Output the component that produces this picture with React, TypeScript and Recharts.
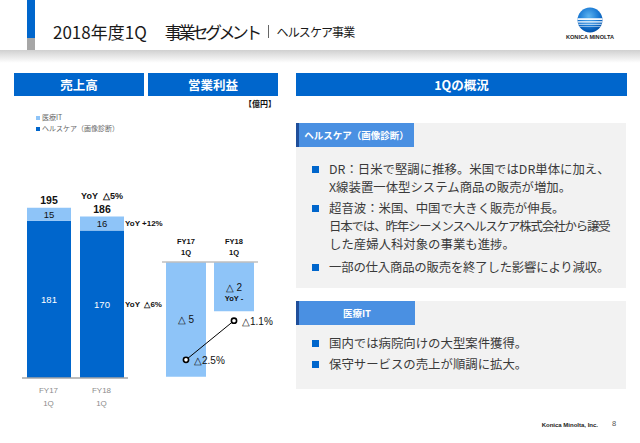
import React from 'react';
import { BarChart, Bar, XAxis, YAxis, LabelList, ComposedChart, Line } from 'recharts';

// ---- data ----
const categories = ['FY17', 'FY18'];
const periodLabels = ['1Q', '1Q'];
const healthcareSales = [181, 170];
const medicalItSales = [15, 16];
const salesTotals = [195, 186];
const healthcareYoY = ['', 'YoY\u00a0\u00a0△6%'];
const medicalItYoY = ['', 'YoY +12%'];
const totalYoY = ['', 'YoY\u00a0\u00a0△5%'];
const opIncome = [-4.9, -2.1];
const opIncomeLabels = ['△ 5', '△ 2'];
const opIncomeYoY = ['', 'YoY -'];
const opMargin = [-2.5, -1.1];
const opMarginLabels = ['△2.5%', '△1.1%'];

const legendNames = ['医療IT', 'ヘルスケア（画像診断）'];

const salesData = categories.map((c, i) => ({
  category: c,
  period: periodLabels[i],
  healthcare: healthcareSales[i],
  medicalIt: medicalItSales[i],
  total: salesTotals[i],
  healthcareYoY: healthcareYoY[i],
  medicalItYoY: medicalItYoY[i],
  totalYoY: totalYoY[i],
}));

const opData = categories.map((c, i) => ({
  category: c,
  period: periodLabels[i],
  income: opIncome[i],
  incomeLabel: opIncomeLabels[i],
  incomeYoY: opIncomeYoY[i],
  margin: opMargin[i],
  marginLabel: opMarginLabels[i],
}));

const bullets1 = [
  ['DR：日米で堅調に推移。米国ではDR単体に加え、', 'X線装置一体型システム商品の販売が増加。'],
  ['超音波：米国、中国で大きく販売が伸長。', '日本では、昨年シーメンスヘルスケア株式会社から譲受', 'した産婦人科対象の事業も進捗。'],
  ['一部の仕入商品の販売を終了した影響により減収。'],
];
const bullets1Y = [[169.5, 187.5], [208, 226.5, 244.5], [267]];
const bullets1Spacing = [[0, 0], [0, -1.1, 0], [-0.2]];
const bullets2 = [['国内では病院向けの大型案件獲得。'], ['保守サービスの売上が順調に拡大。']];
const bullets2Y = [[343], [364]];
const bullets2Spacing = [[0], [0]];

// ---- styles ----
const JP = '"Noto Sans CJK JP", "Noto Sans", sans-serif';
const NUM = '"Liberation Sans", Arial, sans-serif';
const DARK = '#0066CC';
const LIGHT = '#8EC4F8';
const HEAD = '#0066CC';
const SUBHEAD = '#4A90E2';

const box = (l: number, t: number, w: number, h: number, bg: string): React.CSSProperties => ({
  position: 'absolute', left: l, top: t, width: w, height: h, background: bg,
});

const rectOf = (p: any) => {
  const vb = p.viewBox ?? p;
  const x = vb.x ?? p.x;
  const y = vb.y ?? p.y;
  const w = vb.width ?? p.width ?? 0;
  const h = vb.height ?? p.height ?? 0;
  const top = Math.min(y, y + h);
  const bottom = Math.max(y, y + h);
  return { x, y, w, h, cx: x + w / 2, cy: (top + bottom) / 2, top, bottom, right: x + w };
};

const segLabel = (color: string) => (p: any) => {
  const r = rectOf(p);
  return (
    <text x={r.cx} y={r.cy} textAnchor="middle" dominantBaseline="central" fill={color}
      fontFamily={NUM} fontSize={9.5}>{p.value}</text>
  );
};

const rightLabel = (p: any) => {
  if (!p.value) return null;
  const r = rectOf(p);
  return (
    <text x={r.right + 1} y={r.cy} textAnchor="start" dominantBaseline="central" fill="#111"
      fontFamily={NUM} fontSize={8} fontWeight="bold">{p.value}</text>
  );
};

const totalLabel = (p: any) => {
  const r = rectOf(p);
  const i = p.index;
  const yoy = salesData[i]?.totalYoY;
  return (
    <g>
      <text x={r.cx} y={r.top - 8} textAnchor="middle" dominantBaseline="central" fill="#111"
        fontFamily={NUM} fontSize={10.5} fontWeight="bold">{p.value}</text>
      {yoy ? (
        <text x={r.cx} y={r.top - 21} textAnchor="middle" dominantBaseline="central" fill="#111"
          fontFamily={NUM} fontSize={9} fontWeight="bold">{yoy}</text>
      ) : null}
    </g>
  );
};

const opBarLabel = (p: any) => {
  const r = rectOf(p);
  const yoy = opData[p.index]?.incomeYoY;
  return (
    <g>
      <text x={r.cx} y={yoy ? r.cy + 1 : r.cy} textAnchor="middle" dominantBaseline="central" fill="#111"
        fontFamily={NUM} fontSize={10}>{p.value}</text>
      {yoy ? (
        <text x={r.cx} y={r.cy + 12} textAnchor="middle" dominantBaseline="central" fill="#111"
          fontFamily={NUM} fontSize={7.5} fontWeight="bold">{yoy}</text>
      ) : null}
    </g>
  );
};

const marginLabel = (p: any) => {
  const vb = p.viewBox ?? p;
  const x = vb.x ?? p.x;
  const y = vb.y ?? p.y;
  return (
    <text x={x + 8} y={y + 1} textAnchor="start" dominantBaseline="central" fill="#111"
      fontFamily={NUM} fontSize={10}>{p.value}</text>
  );
};

const SalesTick = (p: any) => {
  const { x, y, payload, index } = p;
  return (
    <g>
      <text x={x} y={y + 12} textAnchor="middle" dominantBaseline="central" fill="#8c8c8c" fontFamily={NUM} fontSize={8}>{payload.value}</text>
      <text x={x} y={y + 25} textAnchor="middle" dominantBaseline="central" fill="#8c8c8c" fontFamily={NUM} fontSize={8}>{periodLabels[index] ?? '1Q'}</text>
    </g>
  );
};

const OpTick = (p: any) => {
  const { x, y, payload, index } = p;
  return (
    <g>
      <text x={x} y={y - 21} textAnchor="middle" dominantBaseline="central" fill="#111" fontFamily={NUM} fontSize={7.5} fontWeight="bold">{payload.value}</text>
      <text x={x} y={y - 10} textAnchor="middle" dominantBaseline="central" fill="#111" fontFamily={NUM} fontSize={7.5} fontWeight="bold">{periodLabels[index] ?? '1Q'}</text>
    </g>
  );
};

const MarginDot = (p: any) => {
  const { cx, cy } = p;
  if (cx == null || cy == null) return null;
  return <circle cx={cx} cy={cy} r={2.6} fill="#fff" stroke="#000" strokeWidth={1.6} />;
};

function Logo() {
  return (
    <svg style={{ position: 'absolute', left: 556, top: 4 }} width={70} height={40}>
      <defs>
        <radialGradient id="lg" cx="45%" cy="35%" r="65%">
          <stop offset="0%" stopColor="#5db4f0" />
          <stop offset="60%" stopColor="#1a7ad4" />
          <stop offset="100%" stopColor="#0050a8" />
        </radialGradient>
        <clipPath id="lc"><circle cx={34} cy={16} r={12.5} /></clipPath>
      </defs>
      <circle cx={34} cy={16} r={12.5} fill="url(#lg)" />
      <g clipPath="url(#lc)" fill="#ffffff">
        <rect x={20} y={14.2} width={30} height={1.8} opacity={0.95} />
        <rect x={20} y={17.2} width={30} height={1.4} opacity={0.9} />
        <rect x={20} y={19.8} width={30} height={1.0} opacity={0.8} />
        <rect x={20} y={22.0} width={30} height={0.7} opacity={0.7} />
      </g>
      <text x={34} y={35} textAnchor="middle" fontFamily={NUM} fontSize={5.6} fontWeight="bold" fill="#222">KONICA MINOLTA</text>
    </svg>
  );
}

function BulletBlock({ items, ys, sp }: { items: string[][]; ys: number[][]; sp: number[][] }) {
  return (
    <>
      {items.map((lines, i) => (
        <React.Fragment key={i}>
          <div style={box(312, ys[i][0] - 3.5, 7, 7, DARK)} />
          {lines.map((line, j) => (
            <div key={j} style={{
              position: 'absolute', left: 329, top: ys[i][j] - 7.5, height: 15, lineHeight: '15px',
              fontSize: 12.4, color: '#3a3a3a', whiteSpace: 'nowrap', fontFamily: JP, letterSpacing: sp[i][j],
            }}>{line}</div>
          ))}
        </React.Fragment>
      ))}
    </>
  );
}

export default function App() {
  const headText: React.CSSProperties = {
    color: '#fff', fontWeight: 'bold', fontSize: 12.5, lineHeight: '23px', textAlign: 'center', fontFamily: JP,
  };
  const subText: React.CSSProperties = {
    color: '#fff', fontWeight: 'bold', fontSize: 9.5, lineHeight: '24px', textAlign: 'center', fontFamily: JP,
  };
  return (
    <div style={{ position: 'absolute', left: 0, top: 0, width: 640, height: 443, background: '#fff', overflow: 'hidden', fontFamily: JP }}>
      {/* title bar */}
      <div style={box(27, 0, 8, 38, '#0066CC')} />
      <div style={box(27, 38, 8, 12, '#A6A6A6')} />
      <div style={{ ...box(0, 50, 640, 13, ''), background: 'linear-gradient(#d0d0d0, #ffffff)' }} />
      <div style={{ position: 'absolute', left: 53, top: 21, height: 20, display: 'flex', alignItems: 'center', color: '#1a1a1a', whiteSpace: 'nowrap' }}>
        <span style={{ fontSize: 17 }}>2018年度1Q</span>
        <span style={{ fontSize: 17, marginLeft: 18, letterSpacing: -3.6 }}>事業セグメント</span>
        <span style={{ display: 'inline-block', width: 1, height: 13, background: '#666', marginLeft: 9, marginRight: 8 }} />
        <span style={{ fontSize: 12, letterSpacing: -0.9 }}>ヘルスケア事業</span>
      </div>
      <Logo />

      {/* section headers */}
      <div style={{ ...box(14, 73, 130, 23, HEAD), ...headText }}>売上高</div>
      <div style={{ ...box(148, 73, 130, 23, HEAD), ...headText }}>営業利益</div>
      <div style={{ ...box(296, 73, 331, 23, HEAD), ...headText }}>1Qの概況</div>
      <div style={{ position: 'absolute', left: 230, top: 98, width: 46, textAlign: 'right', fontSize: 8, fontWeight: 'bold', color: '#111', lineHeight: '12px' }}>【億円】</div>

      {/* legend */}
      {legendNames.map((n, i) => (
        <div key={n} style={{ position: 'absolute', left: 36, top: 112 + i * 11, height: 10, lineHeight: '10px', fontSize: 7, color: '#666', whiteSpace: 'nowrap' }}>
          <span style={{ display: 'inline-block', width: 4, height: 4, background: i === 0 ? LIGHT : DARK, marginRight: 2, verticalAlign: 'middle' }} />
          {n}
        </div>
      ))}

      {/* sales chart */}
      <div style={{ position: 'absolute', left: 0, top: 0 }}>
        <BarChart width={290} height={443} data={salesData} margin={{ top: 187, right: 162, bottom: 35, left: 22 }} barSize={44}>
          <XAxis dataKey="category" height={30} tickLine={false} tickSize={0} tickMargin={0}
            axisLine={{ stroke: '#A6A6A6', strokeWidth: 1.5 }} tick={<SalesTick />} interval={0} />
          <YAxis hide domain={[0, 220]} />
          <Bar dataKey="healthcare" stackId="s" fill={DARK} isAnimationActive={false}>
            <LabelList dataKey="healthcare" content={segLabel('#ffffff')} />
            <LabelList dataKey="healthcareYoY" content={rightLabel} />
          </Bar>
          <Bar dataKey="medicalIt" stackId="s" fill={LIGHT} isAnimationActive={false}>
            <LabelList dataKey="medicalIt" content={segLabel('#111')} />
            <LabelList dataKey="medicalItYoY" content={rightLabel} />
            <LabelList dataKey="total" content={totalLabel} />
          </Bar>
        </BarChart>
      </div>

      {/* operating income chart */}
      <div style={{ position: 'absolute', left: 0, top: 0 }}>
        <ComposedChart width={290} height={443} data={opData} margin={{ top: 232, right: 32, bottom: 65, left: 162 }} barSize={40}>
          <XAxis dataKey="category" orientation="top" height={30} tickLine={false} tickSize={0} tickMargin={0}
            axisLine={{ stroke: '#BFBFBF', strokeWidth: 1.5 }} tick={<OpTick />} interval={0} />
          <YAxis yAxisId="bar" hide domain={[-4.95, 0]} />
          <YAxis yAxisId="margin" orientation="right" hide domain={[-3.15, 1.0]} />
          <Bar yAxisId="bar" dataKey="income" fill={LIGHT} isAnimationActive={false}>
            <LabelList dataKey="incomeLabel" content={opBarLabel} />
          </Bar>
          <Line yAxisId="margin" dataKey="margin" stroke="#000" strokeWidth={1} dot={<MarginDot />} activeDot={false} isAnimationActive={false}>
            <LabelList dataKey="marginLabel" content={marginLabel} />
          </Line>
        </ComposedChart>
      </div>

      {/* overview panels */}
      <div style={box(296, 123, 330, 165, '#F2F2F2')} />
      <div style={{ ...box(296, 123, 118, 24, SUBHEAD), ...subText, borderLeft: '3px solid #1F4E9A', boxSizing: 'border-box' }}>ヘルスケア（画像診断）</div>
      <BulletBlock items={bullets1} ys={bullets1Y} sp={bullets1Spacing} />

      <div style={box(296, 301, 330, 88, '#F2F2F2')} />
      <div style={{ ...box(296, 301, 119, 24, SUBHEAD), ...subText, borderLeft: '3px solid #1F4E9A', boxSizing: 'border-box' }}>医療IT</div>
      <BulletBlock items={bullets2} ys={bullets2Y} sp={bullets2Spacing} />

      {/* footer */}
      <div style={{ position: 'absolute', left: 530, top: 420, width: 68, textAlign: 'right', fontSize: 6, fontWeight: 'bold', color: '#222', fontFamily: NUM, lineHeight: '10px' }}>Konica Minolta, Inc.</div>
      <div style={{ position: 'absolute', left: 612, top: 419, fontSize: 7.5, color: '#555', fontFamily: NUM, lineHeight: '10px' }}>8</div>
    </div>
  );
}
